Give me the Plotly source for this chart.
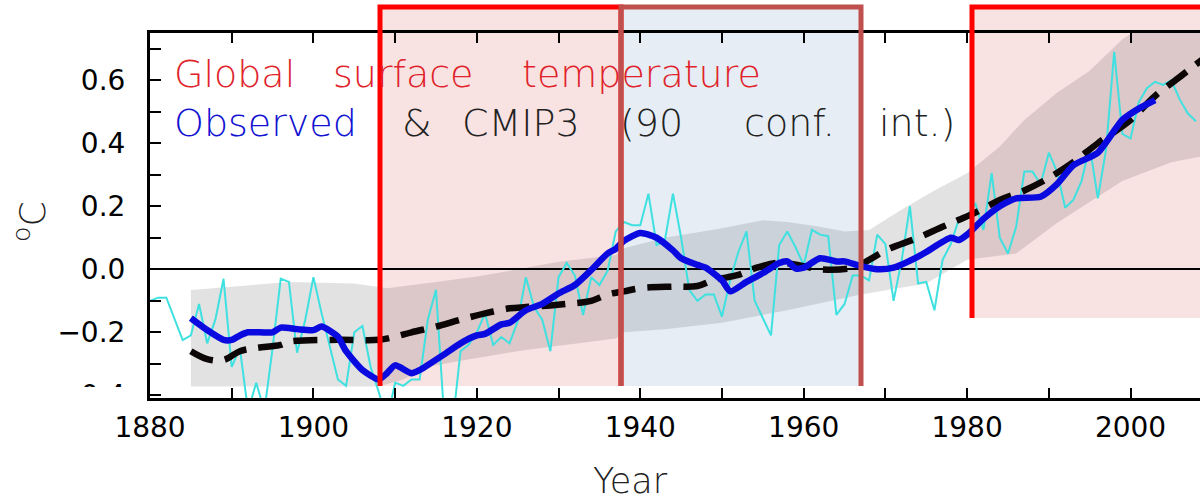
import plotly.graph_objects as go

# ---------------- data ----------------
obs_years = list(range(1880, 2009))
obs_annual = [
    -0.10, -0.09, -0.09, -0.16, -0.225, -0.21, -0.11, -0.235, -0.16, -0.03,
    -0.31, -0.25, -0.45, -0.36, -0.45, -0.25, -0.03, -0.04, -0.265, -0.16,
    -0.025, -0.14, -0.245, -0.35, -0.37, -0.20, -0.18, -0.31, -0.39, -0.48,
    -0.36, -0.37, -0.35, -0.35, -0.16, -0.065, -0.47, -0.50, -0.26, -0.24,
    -0.20, -0.14, -0.24, -0.215, -0.235, -0.165, -0.025, -0.12, -0.16, -0.26,
    -0.025, 0.02, -0.02, -0.145, -0.025, -0.05, -0.005, 0.12, 0.15, 0.14,
    0.14, 0.24, 0.077, 0.09, 0.24, 0.10, -0.066, -0.10, -0.08, -0.08,
    -0.15, -0.035, 0.055, 0.12, -0.10, -0.155, -0.21, 0.077, 0.12, 0.07,
    0.013, 0.125, 0.11, 0.105, -0.145, -0.11, -0.02, -0.02, -0.035, 0.11,
    0.08, -0.10, 0.03, 0.20, -0.045, -0.04, -0.13, 0.03, 0.08, 0.16,
    0.17, 0.21, 0.125, 0.305, 0.10, 0.05, 0.135, 0.31, 0.31, 0.27,
    0.37, 0.31, 0.195, 0.22, 0.28, 0.39, 0.225, 0.38, 0.69, 0.43,
    0.415, 0.53, 0.575, 0.595, 0.585, 0.60, 0.54, 0.495, 0.47,
]

smooth_years = [1885, 1887, 1889, 1890, 1891, 1892, 1895, 1896, 1898, 1900,
                1901, 1902, 1903, 1904, 1906, 1908, 1909, 1910, 1912, 1913,
                1916, 1918, 1920, 1921, 1923, 1924, 1926, 1928, 1930, 1932,
                1934, 1936, 1937, 1938, 1940, 1942, 1944, 1945, 1947, 1948,
                1950, 1951, 1953, 1955, 1957, 1958, 1959, 1960, 1962, 1964,
                1965, 1967, 1969, 1971, 1974, 1975, 1978, 1979, 1980, 1982,
                1984, 1986, 1989, 1991, 1993, 1996, 1999, 2001, 2003]
smooth_vals = [-0.155, -0.193, -0.224, -0.224, -0.21, -0.20, -0.20, -0.185, -0.19, -0.193,
               -0.182, -0.195, -0.214, -0.26, -0.32, -0.35, -0.33, -0.305, -0.33, -0.32,
               -0.27, -0.235, -0.21, -0.205, -0.175, -0.17, -0.13, -0.11, -0.077, -0.05,
               -0.002, 0.05, 0.065, 0.09, 0.115, 0.10, 0.06, 0.035, 0.014, 0.005,
               -0.035, -0.07, -0.04, -0.012, 0.02, 0.025, 0.003, 0.005, 0.035, 0.025,
               0.025, 0.01, 0.0, 0.005, 0.04, 0.055, 0.10, 0.093, 0.11, 0.16,
               0.20, 0.225, 0.23, 0.27, 0.33, 0.37, 0.474, 0.51, 0.537]

model_years = [1885, 1887, 1889, 1891, 1893, 1896, 1897, 1903, 1908, 1910,
               1912, 1915, 1918, 1921, 1924, 1926, 1929, 1931, 1934, 1936,
               1938, 1940, 1944, 1947, 1949, 1952, 1954, 1957, 1960, 1962,
               1966, 1968, 1970, 1974, 1977, 1979, 1981, 1984, 1987, 1990,
               1993, 1996, 2000, 2003, 2006, 2008, 2009]
model_mean = [-0.26, -0.285, -0.288, -0.26, -0.25, -0.24, -0.23, -0.224, -0.224, -0.214,
              -0.20, -0.182, -0.16, -0.14, -0.124, -0.12, -0.115, -0.11, -0.10, -0.08,
              -0.07, -0.06, -0.055, -0.053, -0.034, -0.018, 0.003, 0.021, 0.01, 0.0,
              0.005, 0.03, 0.06, 0.10, 0.135, 0.157, 0.18, 0.22, 0.25, 0.29,
              0.34, 0.40, 0.474, 0.55, 0.61, 0.65, 0.67]

band_up_years = [1885, 1890, 1897, 1905, 1909, 1915, 1920, 1925, 1930, 1937,
                 1938, 1943, 1950, 1955, 1958, 1962, 1965, 1968, 1972, 1976,
                 1980, 1984, 1987, 1991, 1995, 1999, 2003, 2009]
band_up = [-0.066, -0.055, -0.04, -0.045, -0.06, -0.04, -0.023, 0.0, 0.024, 0.045,
           0.067, 0.10, 0.13, 0.156, 0.15, 0.135, 0.12, 0.125, 0.19, 0.25,
           0.305, 0.39, 0.474, 0.56, 0.63, 0.73, 0.80, 0.90]
band_lo_years = [1885, 1908, 1911, 1914, 1918, 1926, 1937, 1938, 1943, 1950,
                 1958, 1967, 1975, 1980, 1986, 1991, 1999, 2005, 2009]
band_lo = [-0.372, -0.372, -0.35, -0.31, -0.29, -0.256, -0.22, -0.20, -0.19, -0.17,
           -0.13, -0.08, -0.045, 0.03, 0.05, 0.147, 0.28, 0.34, 0.36]

title_words_1 = ["Global", "surface", "temperature"]
title_words_2 = ["Observed", "&", "CMIP3", "(90", "conf.", "int.)"]

# ---------------- layout helpers (pixel -> paper) ----------------
W, H = 1200, 504
ML, MR, MT, MB = 150, 0, 33, 106
PW, PH = W - ML - MR, H - MT - MB


def px(p):
    return (p - ML) / PW


def py(p):
    return (H - MB - p) / PH


fig = go.Figure()

# CMIP3 90% band
fig.add_trace(go.Scatter(
    x=band_up_years + band_lo_years[::-1],
    y=band_up + band_lo[::-1],
    fill="toself", fillcolor="rgba(0,0,0,0.115)",
    line=dict(width=0), mode="lines", hoverinfo="skip", showlegend=False))

# observed annual
fig.add_trace(go.Scatter(x=obs_years, y=obs_annual, mode="lines",
                         line=dict(color="#3fe0e0", width=2), showlegend=False))
# CMIP3 mean
fig.add_trace(go.Scatter(x=model_years, y=model_mean, mode="lines",
                         line=dict(color="#0c0606", width=6.5, dash="24px,12px", shape="spline"),
                         showlegend=False))
# observed smoothed
fig.add_trace(go.Scatter(x=smooth_years, y=smooth_vals, mode="lines",
                         line=dict(color="#0a0ae0", width=6.5, shape="spline", smoothing=0.6),
                         showlegend=False))

pink = "#F9E2E2"
lblue = "#E6EDF5"
shapes = [
    # fills (below traces)
    dict(type="rect", xref="paper", yref="paper", x0=px(380), x1=px(621), y0=py(386), y1=py(7),
         fillcolor=pink, line=dict(width=0), layer="below"),
    dict(type="rect", xref="paper", yref="paper", x0=px(621), x1=px(861), y0=py(386), y1=py(7),
         fillcolor=lblue, line=dict(width=0), layer="below"),
    dict(type="rect", xref="paper", yref="paper", x0=px(972), x1=px(1210), y0=py(318), y1=py(7),
         fillcolor=pink, line=dict(width=0), layer="below"),
    # borders (above traces)
    dict(type="path", xref="paper", yref="paper",
         path=f"M {px(380)},{py(386)} L {px(380)},{py(7)} L {px(621)},{py(7)} L {px(621)},{py(386)}",
         line=dict(color="#FF0000", width=5), layer="above"),
    dict(type="path", xref="paper", yref="paper",
         path=f"M {px(621)},{py(386)} L {px(621)},{py(7)} L {px(861)},{py(7)} L {px(861)},{py(386)}",
         line=dict(color="#C0504D", width=5), layer="above"),
    dict(type="path", xref="paper", yref="paper",
         path=f"M {px(972)},{py(318)} L {px(972)},{py(7)} L {px(1210)},{py(7)}",
         line=dict(color="#FF0000", width=5), layer="above"),
    # white strip partially hiding the lowest y label
    dict(type="rect", xref="paper", yref="paper", x0=px(0), x1=px(147), y0=py(412), y1=py(387),
         fillcolor="white", line=dict(width=0), layer="above"),
]

font_fam = "DejaVu Sans"
annotations = []
w1_x = [172, 331, 520]
for w, x in zip(title_words_1, w1_x):
    annotations.append(dict(text=w, x=px(x), y=py(74), xref="paper", yref="paper",
                            xanchor="left", yanchor="middle", showarrow=False,
                            font=dict(family=font_fam, size=38, color="#E0222A", weight=200)))
w2_x = [172, 400, 460, 618, 742, 877]
w2_c = ["#1212D2", "#222222", "#222222", "#222222", "#222222", "#222222"]
for w, x, c in zip(title_words_2, w2_x, w2_c):
    annotations.append(dict(text=w, x=px(x), y=py(123), xref="paper", yref="paper",
                            xanchor="left", yanchor="middle", showarrow=False,
                            font=dict(family=font_fam, size=38, color=c, weight=200)))
annotations.append(dict(text="Year", x=px(630), y=py(481), xref="paper", yref="paper",
                        xanchor="center", yanchor="middle", showarrow=False,
                        font=dict(family=font_fam, size=35, color="#222222", weight=200)))
annotations.append(dict(text="<sup>o</sup>C", x=px(30), y=py(222), xref="paper", yref="paper",
                        xanchor="center", yanchor="middle", showarrow=False, textangle=-90,
                        font=dict(family=font_fam, size=36, color="#222222", weight=200)))

fig.update_layout(
    width=W, height=H,
    margin=dict(l=ML, r=MR, t=MT, b=MB, pad=0),
    paper_bgcolor="white", plot_bgcolor="white",
    shapes=shapes, annotations=annotations, showlegend=False,
    font=dict(family=font_fam, color="black"),
)
fig.update_xaxes(
    range=[1880, 2008.5], tick0=1880, dtick=20,
    ticks="inside", ticklen=10, tickwidth=2, tickcolor="black",
    showline=True, linewidth=2.5, linecolor="black", mirror="ticks",
    showgrid=False, zeroline=False,
    minor=dict(dtick=10, tick0=1880, ticks="inside", ticklen=10, tickwidth=2, tickcolor="black", showgrid=False),
    tickfont=dict(family=font_fam, size=28, color="black"), ticklabelstandoff=3,
)
fig.update_yaxes(
    range=[-0.4086, 0.750], tick0=0, dtick=0.2, tickformat=".1f",
    ticks="inside", ticklen=11, tickwidth=2, tickcolor="black",
    showline=True, linewidth=3, linecolor="black", mirror=False,
    showgrid=False, zeroline=True, zerolinecolor="black", zerolinewidth=1.5,
    minor=dict(dtick=0.1, tick0=0, ticks="inside", ticklen=11, tickwidth=2, tickcolor="black", showgrid=False),
    tickfont=dict(family=font_fam, size=28, color="black"), ticklabelstandoff=16,
)

fig.write_html("out.html")
